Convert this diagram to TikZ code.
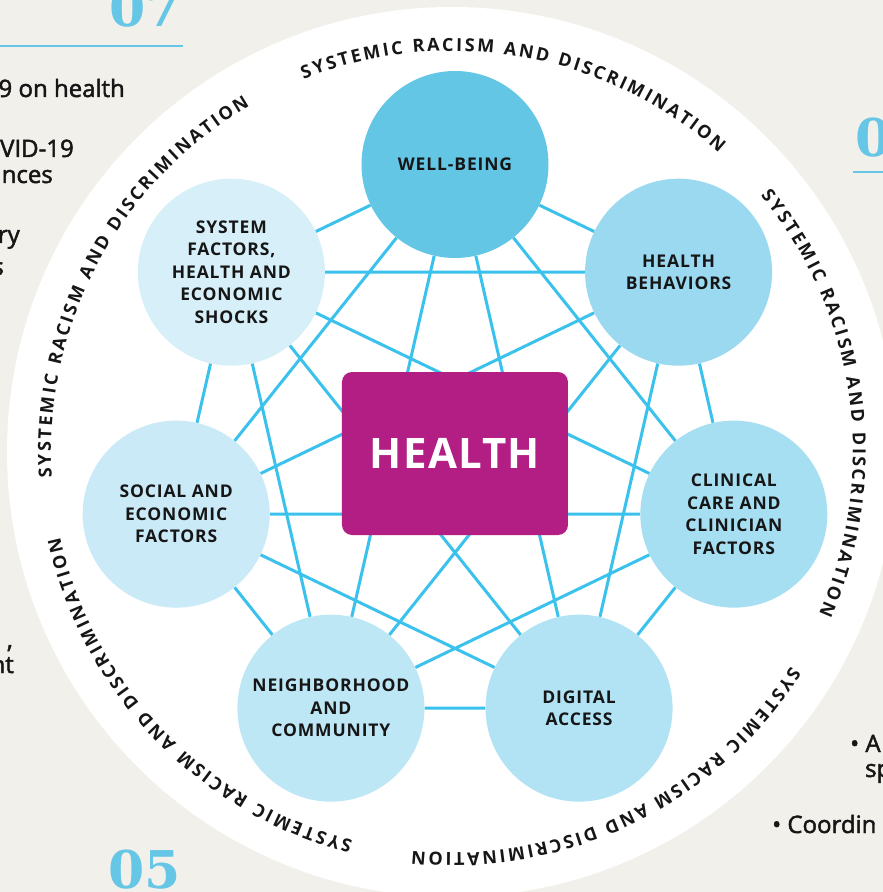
\documentclass[tikz,border=0pt]{standalone}
\usepackage{fontspec}
\setmainfont{Open Sans}
\newfontfamily\labelfamily{Open Sans}[LetterSpace=5]
\newfontfamily\hubfamily{Open Sans}[LetterSpace=3]
\newfontfamily\sidefamily{Open Sans}[FakeBold=2]
\newfontfamily\numfamily{DejaVu Serif}
\usetikzlibrary{decorations.text}

\definecolor{bgbeige}{HTML}{F2F0EA}
\definecolor{linkblue}{HTML}{3BC2EC}
\definecolor{healthmag}{HTML}{B31E85}
\definecolor{textdark}{HTML}{161616}
\definecolor{numblue}{HTML}{66C6E6}
\definecolor{wellc}{HTML}{63C6E5}
\definecolor{behavc}{HTML}{9AD9F0}
\definecolor{clinicc}{HTML}{A6DEF2}
\definecolor{digitalc}{HTML}{B2E3F5}
\definecolor{neighc}{HTML}{BEE7F6}
\definecolor{socialc}{HTML}{C9EAF6}
\definecolor{systemc}{HTML}{D6EFF8}

\pgfdeclarelayer{ring}
\pgfdeclarelayer{links}
\pgfsetlayers{ring,links,main}

\tikzset {
  % one of the seven factors round the hub
  factor/.style = {
    circle,
    minimum size = 187pt,
    inner sep = 0,
    align = center,
    text = textdark,
    font = \labelfamily\bfseries\fontsize{17.5}{22.5}\selectfont
  },
  hub/.style = {
    rectangle,
    rounded corners = 10pt,
    fill = healthmag,
    minimum width = 226pt,
    minimum height = 163pt,
    text = white,
    font = \hubfamily\bfseries\fontsize{42}{48}\selectfont
  },
  link/.style = {
    draw = linkblue,
    line width = 3pt
  },
  % words set round the white ring
  ringtext/.style = {
    decorate,
    decoration = {
      text along path,
      text = {|\bfseries\fontsize{18}{20}\selectfont|SYSTEMIC RACISM AND DISCRIMINATION},
      text color = textdark,
      text align = {fit to path}
    }
  },
  sidetext/.style = {
    inner sep = 0,
    text = textdark,
    font = \sidefamily\fontsize{24}{28}\selectfont
  },
  bignum/.style = {
    inner sep = 0,
    text = numblue,
    font = \numfamily\bfseries\fontsize{52}{56}\selectfont
  }
}

\begin{document}
\begin{tikzpicture}[x=1pt, y=1pt]
  \useasboundingbox (-452,-440) rectangle (431,452);

  \begin{pgfonlayer}{ring}
    \fill[bgbeige] (-452,-440) rectangle (431,452);
    \fill[white] (0,0) circle[radius=445pt];
    \foreach \ang in {80,8,-64,-136,-208}
      \path[ringtext] ({\ang+31.7}:401) arc[start angle=\ang+31.7, end angle=\ang-31.7, radius=401pt];
  \end{pgfonlayer}

  \begin{scope}[shift={(3,1.5)}]
    \node[factor, fill=wellc] (well) at (90:286) {WELL-BEING};
    \node[factor, fill=behavc] (behav) at (38.571:286) {HEALTH\\BEHAVIORS};
    \node[factor, fill=clinicc] (clinic) at (-12.857:286) {CLINICAL\\CARE AND\\CLINICIAN\\FACTORS};
    \node[factor, fill=digitalc] (digital) at (-64.286:286) {DIGITAL\\ACCESS};
    \node[factor, fill=neighc] (neigh) at (-115.714:286) {NEIGHBORHOOD\\AND\\COMMUNITY};
    \node[factor, fill=socialc] (social) at (-167.143:286) {SOCIAL AND\\ECONOMIC\\FACTORS};
    \node[factor, fill=systemc] (system) at (141.429:286) {SYSTEM\\FACTORS,\\HEALTH AND\\ECONOMIC\\SHOCKS};
  \end{scope}
  \node[hub] (health) at (3,-1.5) {HEALTH};

  % every factor is tied to every other one
  \begin{pgfonlayer}{links}
    \draw[link] (well) -- (behav) -- (clinic) -- (digital) -- (neigh) -- (social) -- (system) -- (well);
    \draw[link] (well) -- (clinic) -- (neigh) -- (system) -- (behav) -- (digital) -- (social) -- (well);
    \draw[link] (well) -- (digital) -- (system) -- (clinic) -- (social) -- (behav) -- (neigh) -- (well);
  \end{pgfonlayer}

  % what shows of the page round the ring
  \node[bignum, anchor=base east] (num7) at (-270,425) {07};
  \node[bignum, anchor=base west] (num5) at (-344,-436) {05};
  \node[bignum, anchor=base west] (num6) at (403,295) {0};
  \draw[numblue, line width=2pt] (-452,406) -- (-269,406);
  \draw[numblue, line width=2pt] (401,280) -- (431,280);

  \node[sidetext, anchor=base east] (l1) at (-327,355) {9 on health};
  \node[sidetext, anchor=base east] (l2) at (-378,295) {VID-19};
  \node[sidetext, anchor=base east] (l3) at (-399,269) {nces};
  \node[sidetext, anchor=base east] (l4) at (-432,209) {ry};
  \node[sidetext, anchor=base east] (l5) at (-448,177) {s};
  \node[sidetext, anchor=base east] (l6) at (-439,-196) {,};
  \node[sidetext, anchor=base east] (l7) at (-438,-221) {nt};
  \node[sidetext, anchor=base west] (r1) at (398,-300) {• A};
  \node[sidetext, anchor=base west] (r2) at (413,-325) {sp};
  \node[sidetext, anchor=base west] (r3) at (320,-381) {• Coordin};
\end{tikzpicture}
\end{document}
